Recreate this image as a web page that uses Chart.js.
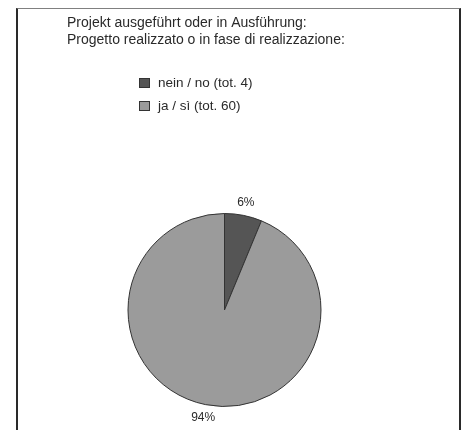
<!DOCTYPE html>
<html>
<head>
<meta charset="utf-8">
<script src="https://cdn.jsdelivr.net/npm/chart.js@4/dist/chart.umd.min.js"></script>
<style>
  html, body { margin: 0; padding: 0; background: #fff; }
  #wrap { position: relative; width: 465px; height: 430px; }
  #frame {
    position: absolute; left: 16px; top: 8px; width: 441px; height: 440px;
    border-left: 2px solid #2a2a2a; border-right: 2px solid #2a2a2a;
    border-top: 1px solid #808080;
  }
  canvas { position: absolute; left: 0; top: 0; }
</style>
</head>
<body>
<div id="wrap">
  <div id="frame"></div>
  <canvas id="c" width="465" height="430"></canvas>
</div>
<script>
const titleLines = [
  'Projekt ausgeführt oder in Ausführung:',
  'Progetto realizzato o in fase di realizzazione:'
];
const categories = ['nein / no', 'ja / sì'];
const counts = [4, 60];
const sliceColors = ['#555555', '#9b9b9b'];

const total = counts.reduce((a, b) => a + b, 0);
const legendLabels = categories.map((c, i) => c + ' (tot. ' + counts[i] + ')');

// Title, stacked legend and outside percentage labels
const annotate = {
  id: 'annotate',
  afterDraw(chart) {
    const ctx = chart.ctx;
    ctx.save();
    ctx.fillStyle = '#2a2a2a';
    ctx.textBaseline = 'middle';
    ctx.textAlign = 'left';
    ctx.font = '14px "Liberation Sans", Arial, sans-serif';
    titleLines.forEach((t, i) => ctx.fillText(t, 67, 23 + i * 17));

    ctx.font = '13.5px "Liberation Sans", Arial, sans-serif';
    legendLabels.forEach((t, i) => {
      const y = 83 + i * 23;
      ctx.fillStyle = sliceColors[i];
      ctx.fillRect(139, y - 5, 11, 10);
      ctx.strokeStyle = '#333';
      ctx.lineWidth = 1;
      ctx.strokeRect(139.5, y - 4.5, 10, 9);
      ctx.fillStyle = '#2a2a2a';
      ctx.fillText(t, 158, y);
    });

    const meta = chart.getDatasetMeta(0);
    ctx.textAlign = 'center';
    ctx.font = '12px "Liberation Sans", Arial, sans-serif';
    meta.data.forEach((arc, i) => {
      const mid = (arc.startAngle + arc.endAngle) / 2;
      const r = arc.outerRadius + 13;
      const x = arc.x + Math.cos(mid) * r;
      const y = arc.y + Math.sin(mid) * r;
      const pct = Math.round(counts[i] / total * 100) + '%';
      ctx.fillText(pct, x, y);
    });
    ctx.restore();
  }
};

new Chart(document.getElementById('c'), {
  type: 'pie',
  data: {
    labels: categories,
    datasets: [{
      data: counts,
      backgroundColor: sliceColors,
      borderColor: '#333333',
      borderWidth: 1
    }]
  },
  options: {
    responsive: false,
    animation: false,
    layout: { padding: { top: 213, bottom: 23, left: 0, right: 16 } },
    plugins: {
      legend: { display: false },
      title: { display: false },
      tooltip: { enabled: false }
    }
  },
  plugins: [annotate]
});
</script>
</body>
</html>
